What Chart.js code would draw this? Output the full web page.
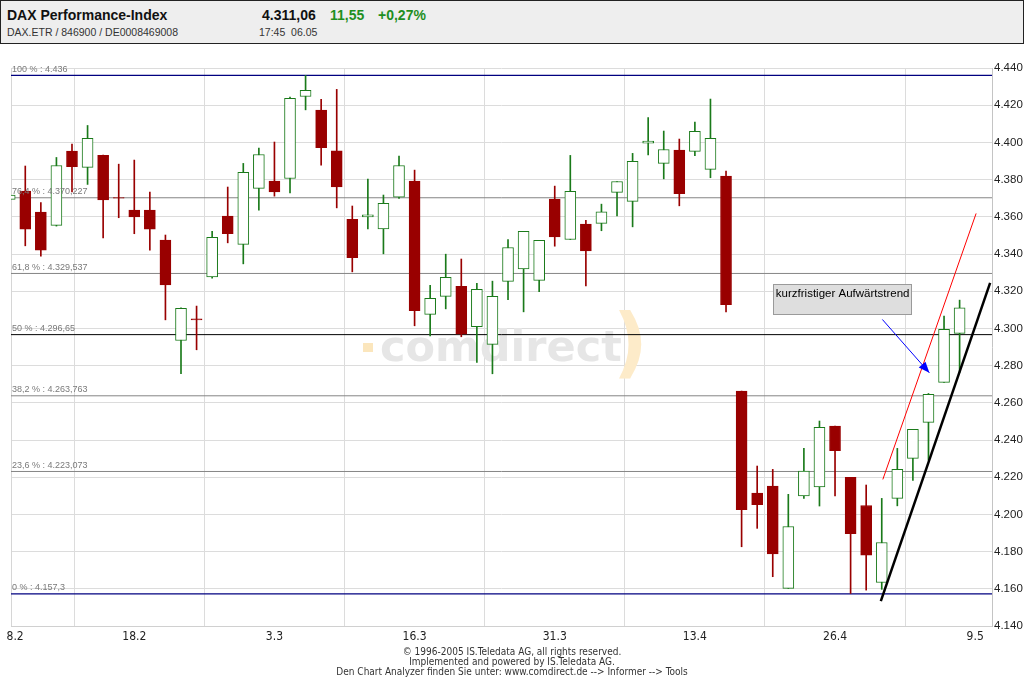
<!DOCTYPE html>
<html><head><meta charset="utf-8">
<script src="https://cdn.jsdelivr.net/npm/chart.js@4.4.1/dist/chart.umd.min.js"></script>
<style>
html,body{margin:0;padding:0;background:#fff;width:1024px;height:679px;overflow:hidden;}
#wrap{position:relative;width:1024px;height:679px;}
#c{position:absolute;left:0;top:0;}
#hdr{position:absolute;left:0;top:0;width:1022px;height:42px;background:#eeeeee;border:1px solid #222;font-family:'Liberation Sans',Arial,sans-serif;}
#hdr div{position:absolute;white-space:nowrap;}
.t1{font-weight:bold;font-size:14px;color:#111;top:6px;}
.t2{font-size:10.5px;color:#333;top:25px;}
.g{color:#1f8f1f;}
#foot{position:absolute;left:0;width:1024px;top:647px;text-align:center;font-family:'Liberation Sans Narrow','DejaVu Sans Condensed',sans-serif;font-size:10px;line-height:10px;color:#333;}
</style></head>
<body><div id="wrap">
<canvas id="c" width="1024" height="679"></canvas>
<div id="hdr">
 <div class="t1" style="left:6px">DAX Performance-Index</div>
 <div class="t2" style="left:6px">DAX.ETR / 846900 / DE0008469008</div>
 <div class="t1" style="left:261px">4.311,06</div>
 <div class="t1 g" style="left:329px">11,55</div>
 <div class="t1 g" style="left:377px">+0,27%</div>
 <div class="t2" style="left:258px">17:45&nbsp;&nbsp;06.05</div>
</div>
<div id="foot">© 1996-2005 IS.Teledata AG, all rights reserved.<br>Implemented and powered by IS.Teledata AG.<br>Den Chart Analyzer finden Sie unter: www.comdirect.de --&gt; Informer --&gt; Tools</div>
</div>
<script>
// ---- data (trading day index 0 = 8.2.2005 ... 61 = 6.5.2005) ----
const DATES    = ['8.2','18.2','3.3','16.3','31.3','13.4','26.4','9.5'];
const DATE_IDX = [0, 8, 17, 26, 35, 44, 53, 62];
const OPEN  = [4369.4,4373.8,4362.5,4355.4,4395.3,4386.6,4393.0,4370.4,4363.6,4363.6,
               4347.5,4293.5,4305.2,4327.7,4360.4,4345.2,4375.3,4379.2,4380.6,4424.7,
               4417.4,4395.5,4358.6,4360.0,4353.5,4370.6,4379.2,4307.5,4317.2,4322.6,
               4300.9,4291.4,4325.3,4332.0,4325.8,4369.5,4347.8,4356.1,4356.5,4373.1,
               4368.3,4399.6,4388.7,4395.9,4395.2,4385.5,4381.9,4266.3,4211.5,4215.2,
               4160.2,4210.0,4214.8,4247.5,4219.9,4204.8,4163.4,4208.6,4230.1,4249.5,
               4271.0,4297.3];
const HIGH  = [4377.0,4387.3,4367.7,4391.9,4399.1,4409.1,4393.2,4388.3,4390.5,4373.3,
               4350.2,4311.0,4312.0,4352.2,4376.0,4388.7,4396.9,4400.2,4424.4,4436.0,
               4423.1,4428.5,4365.8,4380.3,4371.7,4392.6,4385.1,4323.1,4339.9,4337.3,
               4324.2,4325.4,4347.8,4352.2,4347.3,4376.5,4393.0,4358.1,4366.8,4379.0,
               4394.1,4413.4,4406.1,4401.8,4410.9,4423.3,4384.6,4266.3,4226.0,4224.2,
               4210.8,4235.5,4250.2,4247.5,4219.9,4215.8,4208.6,4235.5,4245.7,4265.0,
               4306.6,4315.2];
const LOW   = [4356.4,4344.4,4338.9,4355.0,4373.4,4377.4,4348.7,4359.5,4350.9,4342.1,
               4304.6,4275.6,4288.5,4327.0,4346.0,4334.7,4363.6,4371.1,4372.9,4417.5,
               4387.8,4364.8,4330.4,4353.5,4340.1,4369.9,4301.4,4295.9,4310.5,4295.5,
               4281.7,4275.6,4315.4,4308.9,4319.7,4344.2,4347.8,4322.9,4352.5,4360.5,
               4354.6,4393.3,4380.4,4365.9,4392.8,4381.0,4308.9,4182.6,4192.5,4166.5,
               4160.2,4208.6,4204.5,4210.0,4157.5,4159.3,4159.7,4204.6,4218.3,4229.2,
               4271.0,4276.3];
const CLOSE = [4371.7,4353.4,4342.1,4387.6,4386.9,4402.2,4369.1,4370.0,4360.0,4353.4,
               4323.4,4310.8,4304.6,4348.9,4350.9,4383.9,4393.5,4373.4,4423.7,4428.0,
               4397.1,4376.1,4338.0,4361.0,4367.2,4387.6,4309.5,4316.1,4327.4,4296.9,
               4321.0,4317.2,4343.5,4352.2,4347.3,4349.2,4373.7,4341.7,4362.7,4379.0,
               4389.8,4400.7,4396.2,4372.4,4405.9,4402.2,4312.7,4202.5,4205.2,4178.8,
               4193.5,4223.3,4246.8,4234.2,4189.6,4178.1,4184.9,4224.2,4245.7,4264.5,
               4299.5,4311.1];
const FIB_PCT = ['100 %','76,4 %','61,8 %','50 %','38,2 %','23,6 %','0 %'];
const FIB_VAL = [4436, 4370.227, 4329.537, 4296.65, 4263.763, 4223.073, 4157.3];
const FIB_TXT = ['4.436','4.370,227','4.329,537','4.296,65','4.263,763','4.223,073','4.157,3'];
const FIB_COL = ['#000080','#858585','#858585','#000000','#858585','#858585','#000080'];
const RED_TREND   = [[56.07, 4218.8], [62.06, 4361.8]];
const BLACK_TREND = [[55.94, 4153.4], [62.96, 4324.5]];
const ARROW       = [[56.04, 4304.8], [59.06, 4276.1]];
const NOTE_TEXT = 'kurzfristiger Aufwärtstrend';
const NOTE_BOX  = {x0: 49.04, x1: 57.93, top: 4323.7, bottom: 4307.5};
const Y_MIN = 4140, Y_MAX = 4440, Y_STEP = 20;
const X_MIN = 0.083, X_MAX = 63.08;

// ---- styling ----
const RED = '#990000', GREEN = '#1a7a1a';
const isUp = i => CLOSE[i] >= OPEN[i];
const candleCol = OPEN.map((o, i) => isUp(i) ? GREEN : RED);
const bodyFill  = OPEN.map((o, i) => isUp(i) ? '#ffffff' : RED);
const NARROW = "'Liberation Sans Narrow','DejaVu Sans Condensed',sans-serif";
const SANS = "'Liberation Sans',Arial,sans-serif";

const lineDs = (pts, color, width, order) => ({
  type: 'line', data: pts.map(p => ({x: p[0], y: p[1]})), borderColor: color,
  borderWidth: width, pointRadius: 0, fill: false, order: order, tension: 0
});

const datasets = [];
datasets.push(lineDs(RED_TREND, '#ff0000', 1, 0));
datasets.push(lineDs(BLACK_TREND, '#000000', 2.5, 0));
datasets.push(lineDs(ARROW, '#0000ff', 1, 0));
datasets.push({
  type: 'bar', data: OPEN.map((o, i) => ({x: i, y: [o, CLOSE[i]]})),
  backgroundColor: bodyFill, borderColor: candleCol, borderWidth: 1, borderSkipped: false,
  barThickness: 11, grouped: false, order: 1
});
datasets.push({
  type: 'bar', data: LOW.map((l, i) => ({x: i, y: [l, HIGH[i]]})),
  backgroundColor: candleCol, borderWidth: 0, barThickness: 1, grouped: false, order: 2
});
FIB_VAL.forEach((v, k) => datasets.push(lineDs([[X_MIN, v], [X_MAX, v]], FIB_COL[k], k === 0 || k === 6 ? 1.3 : 1, 3)));

const overlay = {
  id: 'overlay',
  beforeDatasetsDraw(chart) {
    const {ctx, chartArea: a} = chart;
    ctx.save();
    ctx.strokeStyle = '#d6d6d6'; ctx.lineWidth = 1;
    ctx.beginPath(); ctx.moveTo(a.left + 0.5, a.top); ctx.lineTo(a.left + 0.5, a.bottom); ctx.stroke();
    ctx.beginPath(); ctx.rect(a.left, a.top, a.width, a.height); ctx.clip();
    // watermark
    ctx.fillStyle = '#fbe6bd'; ctx.fillRect(a.left + 352, 343, 10, 9);
    ctx.fillStyle = '#e6e6e6'; ctx.font = "bold 43px 'DejaVu Sans'"; ctx.textBaseline = 'alphabetic'; ctx.textAlign = 'left';
    ctx.fillText('comdirect', a.left + 369, 361);
    ctx.fillStyle = '#fdebc9'; ctx.font = "bold 76px 'DejaVu Sans'";
    ctx.fillText(')', a.left + 602, 368);
    ctx.restore();
  },
  afterDatasetsDraw(chart) {
    const {ctx, chartArea: a, scales: {x, y}} = chart;
    ctx.save();
    // fibonacci labels
    ctx.font = "9px " + SANS; ctx.fillStyle = '#7a7a7a'; ctx.textAlign = 'left'; ctx.textBaseline = 'middle';
    FIB_VAL.forEach((v, k) => ctx.fillText(FIB_PCT[k] + ' : ' + FIB_TXT[k], a.left + 1, y.getPixelForValue(v) - 6));
    // note box
    const bx0 = x.getPixelForValue(NOTE_BOX.x0), bx1 = x.getPixelForValue(NOTE_BOX.x1);
    const by0 = y.getPixelForValue(NOTE_BOX.top), by1 = y.getPixelForValue(NOTE_BOX.bottom);
    ctx.fillStyle = '#dedede'; ctx.fillRect(bx0, by0, bx1 - bx0, by1 - by0);
    ctx.strokeStyle = '#9a9a9a'; ctx.lineWidth = 1;
    ctx.strokeRect(Math.round(bx0) + 0.5, Math.round(by0) + 0.5, Math.round(bx1 - bx0), Math.round(by1 - by0));
    ctx.fillStyle = '#000'; ctx.font = "11.5px " + SANS; ctx.textBaseline = 'middle';
    ctx.fillText(NOTE_TEXT, bx0 + 2.5, by0 + 10);
    // arrow head
    const sx = x.getPixelForValue(ARROW[0][0]), sy = y.getPixelForValue(ARROW[0][1]);
    const ex = x.getPixelForValue(ARROW[1][0]), ey = y.getPixelForValue(ARROW[1][1]);
    const ang = Math.atan2(ey - sy, ex - sx), L = 11, W = 4.5;
    const bxp = ex - L * Math.cos(ang), byp = ey - L * Math.sin(ang);
    ctx.fillStyle = '#0000ff'; ctx.beginPath();
    ctx.moveTo(ex, ey);
    ctx.lineTo(bxp + W * Math.sin(ang), byp - W * Math.cos(ang));
    ctx.lineTo(bxp - W * Math.sin(ang), byp + W * Math.cos(ang));
    ctx.closePath(); ctx.fill();
    ctx.restore();
  }
};

new Chart(document.getElementById('c'), {
  type: 'bar',
  data: {datasets},
  options: {
    responsive: false, animation: false, devicePixelRatio: 1,
    layout: {padding: {top: 68, left: 11, right: 0, bottom: 0}},
    plugins: {legend: {display: false}, tooltip: {enabled: false}},
    scales: {
      x: {
        type: 'linear', min: X_MIN, max: X_MAX, offset: false,
        afterBuildTicks: s => { s.ticks = DATE_IDX.map(v => ({value: v === 0 ? 0.35 : v})); },
        afterFit: s => { s.height = 53; },
        ticks: {autoSkip: false, maxRotation: 0, padding: 4, color: '#222',
                font: {family: NARROW, size: 12}, callback: (v, i) => DATES[i]},
        grid: {color: c => (c.tick && c.tick.value < 1) ? 'rgba(0,0,0,0)' : '#dcdcdc', drawTicks: false},
        border: {color: '#d0d0d0'}
      },
      y: {
        position: 'right', min: Y_MIN, max: Y_MAX,
        afterFit: s => { s.width = 32; },
        ticks: {stepSize: Y_STEP, padding: 2, color: '#222', font: {family: SANS, size: 11.5},
                callback: v => (v / 1000).toFixed(3)},
        grid: {color: '#dcdcdc', drawTicks: false},
        border: {color: '#c4c4c4'}
      }
    }
  },
  plugins: [overlay]
});
</script>
</body></html>
